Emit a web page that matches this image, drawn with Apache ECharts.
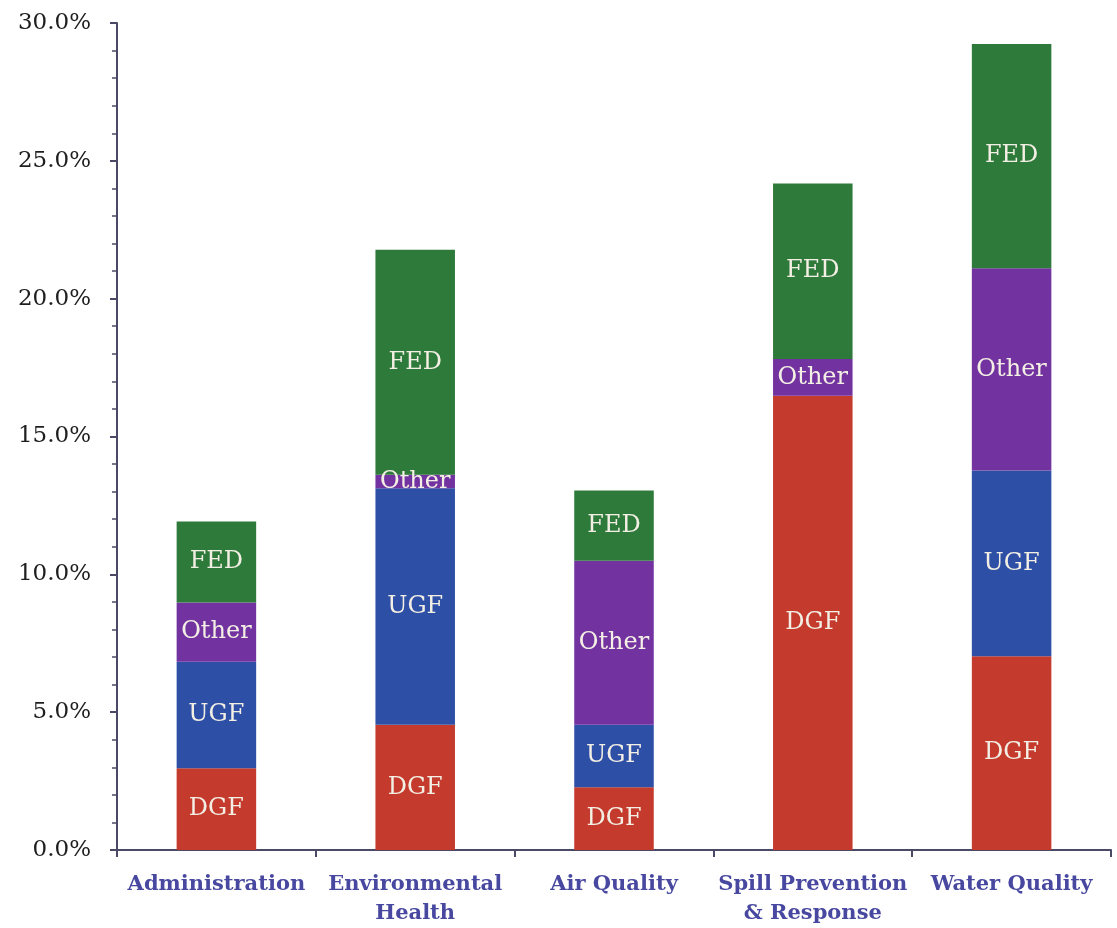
<!DOCTYPE html>
<html>
<head>
<meta charset="utf-8">
<script src="https://cdn.jsdelivr.net/npm/echarts@6/dist/echarts.min.js"></script>
<style>html,body{margin:0;padding:0;background:#fff;}#c{width:1117px;height:928px;}</style>
</head>
<body>
<div id="c"></div>
<script>
const categories = ['Administration', 'Environmental\nHealth', 'Air Quality', 'Spill Prevention\n& Response', 'Water Quality'];
const seriesNames = ['DGF', 'UGF', 'Other', 'FED'];
const dgf   = [2.97, 4.54, 2.28, 16.48, 7.03];
const ugf   = [3.86, 8.58, 2.26, 0,     6.74];
const other = [2.15, 0.49, 5.95, 1.33,  7.33];
const fed   = [2.94, 8.16, 2.55, 6.37,  8.14];
const yTicks = [0, 5, 10, 15, 20, 25, 30];

const colors = ['#c43a2c', '#2e4fa6', '#7232a0', '#2e7a3a'];
const values = [dgf, ugf, other, fed];

const chart = echarts.init(document.getElementById('c'));
chart.setOption({
  animation: false,
  backgroundColor: '#ffffff',
  grid: { left: 117, right: 6, top: 23, bottom: 68, containLabel: false },
  xAxis: {
    type: 'category',
    data: categories,
    axisLine: { lineStyle: { color: '#4a4a66', width: 2 } },
    axisTick: { show: true, length: 7, lineStyle: { color: '#4a4a66', width: 2 } },
    axisLabel: {
      interval: 0, margin: 20,
      fontFamily: 'DejaVu Serif', fontWeight: 'bold', fontSize: 21,
      color: '#4848a0', lineHeight: 29
    }
  },
  yAxis: {
    type: 'value',
    min: yTicks[0], max: yTicks[yTicks.length - 1], interval: 5,
    axisLine: { show: true, lineStyle: { color: '#4a4a66', width: 2 } },
    axisTick: { show: true, length: 7, lineStyle: { color: '#4a4a66', width: 2 } },
    minorTick: { show: true, splitNumber: 5, length: 5, lineStyle: { color: '#4a4a66', width: 1.5 } },
    splitLine: { show: false },
    axisLabel: {
      margin: 26,
      fontFamily: 'DejaVu Serif', fontSize: 23, color: '#1e1e1e',
      formatter: v => v.toFixed(1) + '%'
    }
  },
  series: seriesNames.map((name, i) => ({
    name: name,
    type: 'bar',
    stack: 'total',
    barWidth: '40%',
    data: values[i],
    itemStyle: { color: colors[i] },
    label: {
      show: true, position: 'inside',
      fontFamily: 'DejaVu Serif', fontSize: 24, color: '#f3efe4',
      formatter: p => (p.value > 0 ? p.seriesName : '')
    }
  }))
});
</script>
</body>
</html>
